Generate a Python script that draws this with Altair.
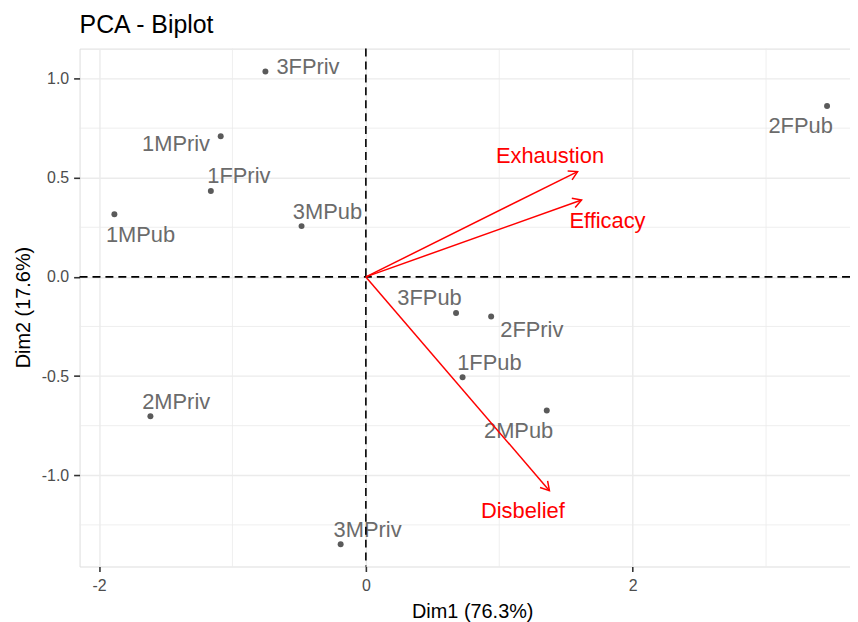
import math
import altair as alt
import pandas as pd

# ---- data ----
ind_names = ["3FPriv", "1MPriv", "1FPriv", "1MPub", "3MPub", "2FPub",
             "3FPub", "2FPriv", "1FPub", "2MPub", "2MPriv", "3MPriv"]
ind_dim1 = [-0.753, -1.088, -1.162, -1.885, -0.482, 3.457,
            0.676, 0.939, 0.725, 1.356, -1.615, -0.189]
ind_dim2 = [1.035, 0.709, 0.433, 0.316, 0.256, 0.861,
            -0.182, -0.200, -0.506, -0.673, -0.702, -1.348]
# label anchor positions (repelled text), data units
ind_lab_x = [-0.434, -1.423, -0.952, -1.689, -0.288, 3.259,
             0.477, 1.244, 0.926, 1.145, -1.422, 0.013]
ind_lab_y = [1.065, 0.677, 0.513, 0.218, 0.334, 0.764,
             -0.102, -0.264, -0.429, -0.772, -0.627, -1.270]

var_names = ["Exhaustion", "Efficacy", "Disbelief"]
var_dim1 = [1.587, 1.617, 1.376]
var_dim2 = [0.531, 0.388, -1.078]
var_lab_x = [1.380, 1.811, 1.177]
var_lab_y = [0.613, 0.289, -1.173]

x_major = [-2, 0, 2]
x_minor = [-1, 1, 3]
y_major = [-1.0, -0.5, 0.0, 0.5, 1.0]
y_minor = [-1.25, -0.75, -0.25, 0.25, 0.75]

chart_title = "PCA - Biplot"

# ---- layout ----
W, H = 775, 521
XDOM = [-2.146, 3.629]
YDOM = [-1.460, 1.151]
FONT = "Liberation Sans"

sx = W / (XDOM[1] - XDOM[0])
sy = H / (YDOM[1] - YDOM[0])

ind = pd.DataFrame({"name": ind_names, "x": ind_dim1, "y": ind_dim2,
                    "lx": ind_lab_x, "ly": ind_lab_y})
var = pd.DataFrame({"name": var_names, "x": var_dim1, "y": var_dim2,
                    "lx": var_lab_x, "ly": var_lab_y})
var["x0"] = 0.0
var["y0"] = 0.0
var["angle"] = [math.degrees(math.atan2(a * sx, b * sy)) % 360
                for a, b in zip(var_dim1, var_dim2)]

xs = alt.Scale(domain=XDOM, nice=False, zero=False)
ys = alt.Scale(domain=YDOM, nice=False, zero=False)

MINUS_FIX = "replace(datum.label, '\u2212', '-')"

xaxis = alt.Axis(values=x_major, format="d", labelExpr=MINUS_FIX,
                 title="Dim1 (76.3%)",
                 grid=True, gridColor="#ebebeb", gridWidth=1.4,
                 domain=False, ticks=True, tickSize=5, tickWidth=1.6,
                 tickColor="#333333", labelColor="#4d4d4d", labelFontSize=16,
                 labelFont=FONT, labelPadding=6,
                 titleFont=FONT, titleFontSize=20, titleFontWeight="normal",
                 titleColor="black", titleX=395, titleY=45,
                 titleBaseline="middle", titleAlign="center")
yaxis = alt.Axis(values=y_major, format=".1f", labelExpr=MINUS_FIX,
                 title="Dim2 (17.6%)",
                 grid=True, gridColor="#ebebeb", gridWidth=1.4,
                 domain=False, ticks=True, tickSize=6, tickWidth=1.6,
                 tickColor="#333333", labelColor="#4d4d4d", labelFontSize=16,
                 labelFont=FONT, labelPadding=5,
                 titleFont=FONT, titleFontSize=20, titleFontWeight="normal",
                 titleColor="black", titleX=-56, titleY=260,
                 titleBaseline="middle", titleAlign="center", titleAngle=270)

base_x = alt.X("x:Q", scale=xs, axis=xaxis)
base_y = alt.Y("y:Q", scale=ys, axis=yaxis)

# invisible anchor layer carrying the axes
axes_layer = alt.Chart(ind).mark_point(opacity=0).encode(x=base_x, y=base_y)

minor_v = alt.Chart(pd.DataFrame({"v": x_minor})).mark_rule(
    color="#ebebeb", strokeWidth=0.8).encode(x=alt.X("v:Q", scale=xs))
minor_h = alt.Chart(pd.DataFrame({"v": y_minor})).mark_rule(
    color="#ebebeb", strokeWidth=0.8).encode(y=alt.Y("v:Q", scale=ys))

points = alt.Chart(ind).mark_circle(size=36, color="#5a5a5a", opacity=1).encode(
    x=alt.X("x:Q", scale=xs), y=alt.Y("y:Q", scale=ys))
plabels = alt.Chart(ind).mark_text(
    font=FONT, fontSize=22, color="#6b6b6b", align="center",
    baseline="middle", dy=1).encode(
    x=alt.X("lx:Q", scale=xs), y=alt.Y("ly:Q", scale=ys), text="name:N")

zero_v = alt.Chart(pd.DataFrame({"v": [0.0]})).mark_rule(
    color="black", strokeWidth=1.6, strokeDash=[8, 5]).encode(
    x=alt.X("v:Q", scale=xs))
zero_h = alt.Chart(pd.DataFrame({"v": [0.0]})).mark_rule(
    color="black", strokeWidth=1.6, strokeDash=[8, 5]).encode(
    y=alt.Y("v:Q", scale=ys))

shafts = alt.Chart(var).mark_rule(color="red", strokeWidth=1.5).encode(
    x=alt.X("x0:Q", scale=xs), y=alt.Y("y0:Q", scale=ys),
    x2="x:Q", y2="y:Q")
heads = alt.Chart(var).mark_point(
    shape="M-0.5,0.866L0,0L0.5,0.866", filled=False, color="red",
    strokeWidth=1.5, size=400, opacity=1).encode(
    x=alt.X("x:Q", scale=xs), y=alt.Y("y:Q", scale=ys),
    angle=alt.Angle("angle:Q", scale=None))
vlabels = alt.Chart(var).mark_text(
    font=FONT, fontSize=22, color="red", align="center",
    baseline="middle", dy=1).encode(
    x=alt.X("lx:Q", scale=xs), y=alt.Y("ly:Q", scale=ys), text="name:N")

title_layer = alt.Chart(pd.DataFrame({"t": [chart_title]})).mark_text(
    font=FONT, fontSize=25, color="black", align="left",
    baseline="alphabetic").encode(
    x=alt.value(0), y=alt.value(-15.5), text="t:N")

chart = alt.layer(
    axes_layer, minor_v, minor_h, points, plabels, zero_v, zero_h,
    shafts, heads, vlabels, title_layer
).properties(
    width=W, height=H,
    autosize=alt.AutoSizeParams(type="none"),
    padding={"left": 72, "top": 39, "right": 0, "bottom": 54},
).configure_view(stroke=None).configure(background="white")

chart.save("out.html", embed_options={"renderer": "svg", "actions": False})
